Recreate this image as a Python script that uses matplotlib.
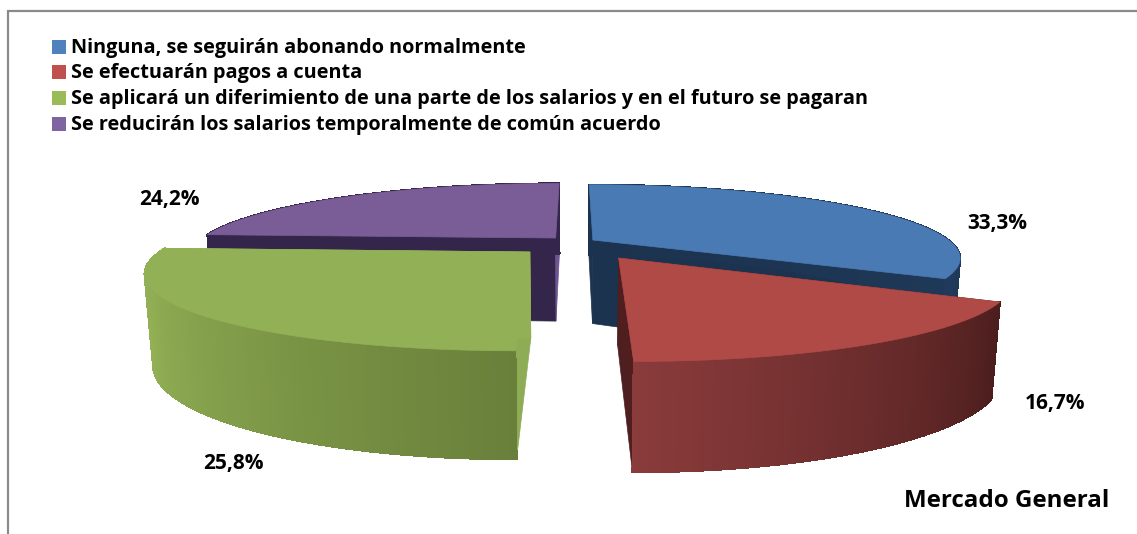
import numpy as np
import matplotlib
matplotlib.use('Agg')
import matplotlib.pyplot as plt
from matplotlib.patches import Polygon, Rectangle

# Data
categories = ['Ninguna, se seguirán abonando normalmente',
              'Se efectuarán pagos a cuenta',
              'Se aplicará un diferimiento de una parte de los salarios y en el futuro se pagaran',
              'Se reducirán los salarios temporalmente de común acuerdo']
values = [33.3, 16.7, 25.8, 24.2]
chart_label = 'Mercado General'

# Styles per slice
top_colors = ['#4a7ab3', '#b04a47', '#92b055', '#7a5c97']
legend_colors = ['#4f81bd', '#c0504d', '#9bbb59', '#8064a2']
wall_start = ['#1c334f', '#4f1e1e', '#8eab55', '#33264a']
wall_end = ['#1c334f', '#4f1e1e', '#92b055', '#6f5590']
side_a = ['#1c334f', '#4b1d1d', '#69803a', '#33264a']   # colour at slice start angle
side_b = ['#1f3a5a', '#8a3b3b', '#92b055', '#33264a']   # colour at slice end angle
side_span = [1.0, 1.0, 0.72, 1.0]                       # share of the rim the shading takes
explode_u = [0.053, 0.118, -0.119, -0.052]
explode_v = [0.029, -0.218, -0.139, 0.058]
label_pos = [(997, 224), (1055, 403), (233, 464), (169, 199)]

# Perspective of the pie, in pixels
cx, cy = 574, 242
rx, ry = 358, 69.4
persp = 0.24
depth = 84


def project(u, v, z=0.0):
    s = 1 / (1 + persp * v)
    x = cx + rx * u * s * (1 - 0.02 * z)
    y = cy - ry * v * s + depth * s ** 0.8 * z
    return np.column_stack([x, y])


def to_rgb(c):
    return np.array(matplotlib.colors.to_rgb(c))


fig = plt.figure(figsize=(11.37, 5.34), dpi=100)
ax = fig.add_axes([0, 0, 1, 1])
ax.set_xlim(0, 1137)
ax.set_ylim(534, 0)
ax.axis('off')

# Frame, open on the right and at the bottom
ax.plot([7.5, 7.5, 1137], [534, 11, 11], color='#8a8a8a', lw=1.6, solid_joinstyle='miter')

# Slice angles
edges = np.concatenate([[0], np.cumsum(values)]) / np.sum(values) * 2 * np.pi


def draw_slice(i, zorder):
    a0, a1 = edges[i], edges[i + 1]
    du, dv = explode_u[i], explode_v[i]
    t = np.linspace(a0, a1, 120)
    u, v = du + np.sin(t), dv + np.cos(t)

    # Cut walls
    for a, col in ((a0, wall_start[i]), (a1, wall_end[i])):
        us = np.array([du, du + np.sin(a)])
        vs = np.array([dv, dv + np.cos(a)])
        pts = np.vstack([project(us, vs, 0), project(us[::-1], vs[::-1], 1)])
        ax.add_patch(Polygon(pts, closed=True, fc=col, ec=col, lw=0.5, zorder=zorder))

    # Rim, shaded in narrow strips, back to front
    top = project(u, v, 0)
    bot = project(u, v, 1)
    for j in np.argsort(-v[:-1]):
        f = min(1.0, j / (len(t) - 2) / side_span[i])
        col = to_rgb(side_a[i]) * (1 - f) + to_rgb(side_b[i]) * f
        pts = np.vstack([top[j:j + 2], bot[j:j + 2][::-1]])
        ax.add_patch(Polygon(pts, closed=True, fc=col, ec=col, lw=0.8,
                             antialiased=False, zorder=zorder))

    # Top face
    apex = project(np.array([du]), np.array([dv]), 0)
    ax.add_patch(Polygon(np.vstack([apex, top]), closed=True, fc=top_colors[i],
                         ec=top_colors[i], lw=0.5, zorder=zorder))


# Back slices first
for order, i in enumerate([0, 3, 2, 1]):
    draw_slice(i, 2 + order)

# Percent labels
for val, pos in zip(values, label_pos):
    ax.text(pos[0], pos[1], ('%.1f%%' % val).replace('.', ','), ha='center', va='center',
            family='Open Sans', weight='bold', fontsize=15, color='black', zorder=10)

# Legend
for i, name in enumerate(categories):
    y = 46.5 + 25.7 * i
    ax.add_patch(Rectangle((52, y - 7), 14, 14, fc=legend_colors[i], ec='none', zorder=10))
    ax.text(71, y + 1, name, ha='left', va='center', family='Open Sans', weight='bold',
            fontsize=14.3, color='black', zorder=10)

ax.text(1109, 501, chart_label, ha='right', va='center', family='Open Sans', weight='bold',
        fontsize=17.4, color='black', zorder=10)

fig.savefig('out.png', dpi=100)
